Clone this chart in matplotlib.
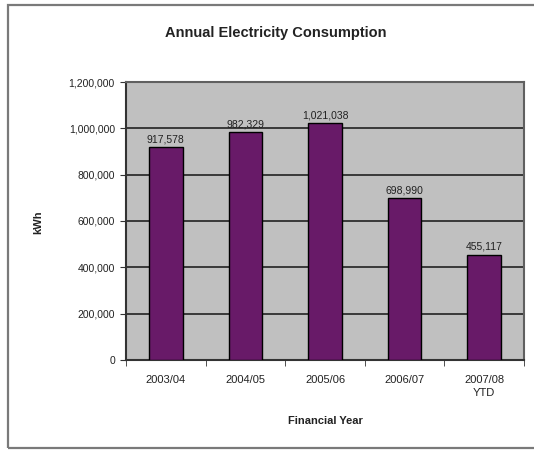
import matplotlib
matplotlib.use("Agg")
import matplotlib.pyplot as plt
from matplotlib.patches import Rectangle
from matplotlib.ticker import FuncFormatter, MultipleLocator

categories = ["2003/04", "2004/05", "2005/06", "2006/07", "2007/08\nYTD"]
values = [917578, 982329, 1021038, 698990, 455117]
value_labels = ["917,578", "982,329", "1,021,038", "698,990", "455,117"]

plt.rcParams['font.family'] = ['Liberation Sans', 'DejaVu Sans']

W, H = 534, 451
fig = plt.figure(figsize=(W/100, H/100), dpi=100)
fig.patch.set_facecolor('white')

# outer chart frame
fig.patches.append(Rectangle((8/W, 1-448/H), (W+5-8)/W, (448-5)/H,
                             transform=fig.transFigure, fill=False,
                             edgecolor='#7a7a7a', linewidth=1.6))

left, right, top, bottom = 126, 524, 82, 360
ax = fig.add_axes([left/W, 1-bottom/H, (right-left)/W, (bottom-top)/H])
ax.set_facecolor('#c0c0c0')

x = list(range(len(categories)))
ax.bar(x, values, width=0.42, color='#681a68', edgecolor='black', linewidth=1.0, zorder=3)
for xi, v, lab in zip(x, values, value_labels):
    ax.text(xi, v + 12000, lab, ha='center', va='bottom', fontsize=7.5, color='#222222', zorder=4)

ax.set_xlim(-0.5, len(categories)-0.5)
ax.set_ylim(0, 1200000)
ax.yaxis.set_major_locator(MultipleLocator(200000))
ax.yaxis.set_major_formatter(FuncFormatter(lambda v, p: f"{int(v):,}"))
ax.grid(axis='y', color='#222222', linewidth=1.2, zorder=1)

ax.set_xticks(x)
ax.set_xticklabels(categories, fontsize=8, color='#222222', linespacing=1.3)
ax.tick_params(axis='x', length=0, pad=11)
ax.set_xticks([i + 0.5 for i in range(-1, len(categories))], minor=True)
ax.tick_params(axis='x', which='minor', length=4, direction='out', color='#333333')
ax.tick_params(axis='y', length=4, direction='out', labelsize=7.5, labelcolor='#222222', color='#333333', pad=4)

for s in ['left', 'bottom']:
    ax.spines[s].set_color('#333333')
    ax.spines[s].set_linewidth(1.5)
for s in ['top', 'right']:
    ax.spines[s].set_color('#606060')
    ax.spines[s].set_linewidth(1.5)

fig.text(276/W, 1-33/H, "Annual Electricity Consumption",
         ha='center', va='center', fontsize=10.5, fontweight='bold', color='#222222')
fig.text(38/W, 1-222/H, "kWh", rotation=90, ha='center', va='center',
         fontsize=8, fontweight='bold', color='#222222')
fig.text(((left+right)/2)/W, 1-421/H, "Financial Year", ha='center', va='center',
         fontsize=8, fontweight='bold', color='#222222')

fig.savefig("out.png", dpi=100)
